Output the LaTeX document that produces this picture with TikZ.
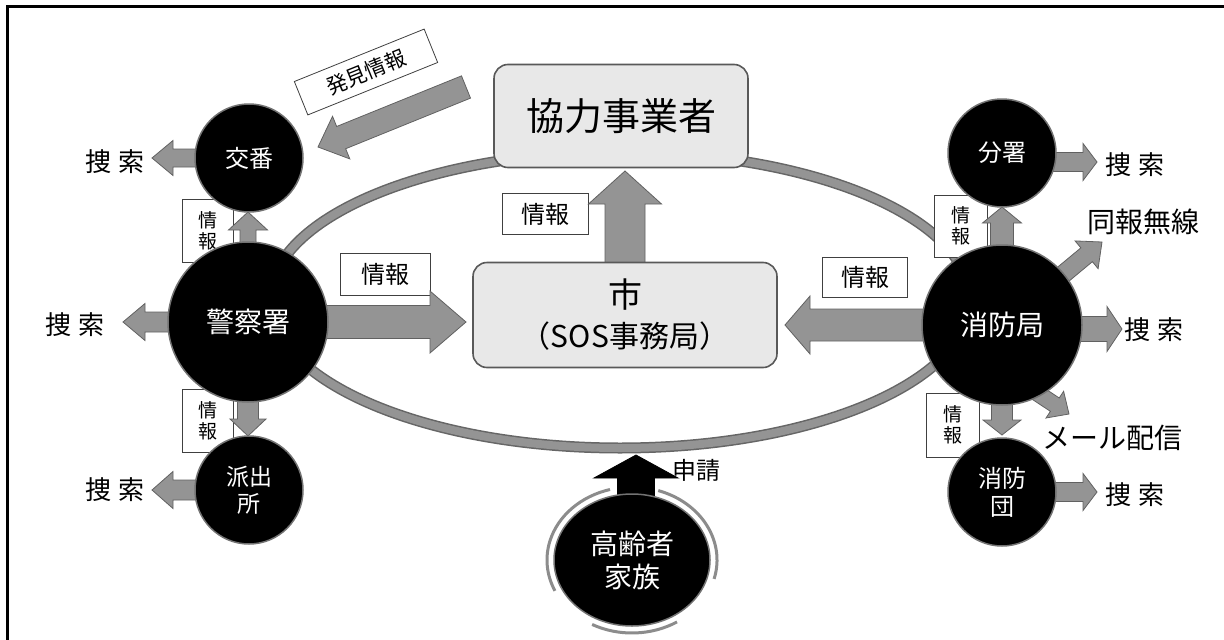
\documentclass[tikz,border=0pt]{standalone}
\usepackage{fontspec}
\setmainfont{Noto Sans CJK JP}
\usetikzlibrary{calc,backgrounds,shapes.geometric}
\newcommand{\jfs}[1]{\fontsize{#1}{#1}\selectfont}
% block arrow: [style]{tail}{tip}{half shaft}{half head}{head length}
\newcommand{\barrow}[6][]{%
  \coordinate (bhA) at ($(#3)!#6!(#2)$);
  \path[garrow,#1] ($(#2)!#4!90:(#3)$) -- ($(bhA)!#4!90:(#3)$) -- ($(bhA)!#5!90:(#3)$) -- (#3)
    -- ($(bhA)!#5!-90:(#3)$) -- ($(bhA)!#4!-90:(#3)$) -- ($(#2)!#4!-90:(#3)$) -- cycle;
}
\begin{document}
\begin{tikzpicture}[x=1pt,y=-1pt,
  dark/.style={circle, fill=black, draw=black!55, line width=1.5pt, text=white, inner sep=0pt, align=center},
  rbox/.style={rectangle, rounded corners=14pt, fill=black!9, draw=black!65, line width=1.6pt, align=center, inner sep=0pt},
  lbl/.style={rectangle, draw=black!75, fill=white, line width=0.8pt, inner sep=0pt, align=center},
  txt/.style={inner sep=0pt, align=center},
  garrow/.style={fill=black!42, draw=black!62, line width=0.8pt},
  karrow/.style={fill=black, draw=black},
  ring/.style={draw=black!45, line width=3pt}]
\useasboundingbox (0,0) rectangle (1224,640);
\begin{pgfonlayer}{background}
  \fill[white] (0,0) rectangle (1224,640);
\end{pgfonlayer}
% frame
\draw[line width=3pt] (7.5,640) -- (7.5,6.5) -- (1224,6.5);

% main nodes
\node[rbox, minimum width=254pt, minimum height=103pt, font=\jfs{38}] (kyo) at (621,116) {協力事業者};
\node[rbox, minimum width=304pt, minimum height=105pt, font=\fontsize{30}{40}\selectfont] (shi) at (625,315) {{\jfs{34}市}\\（SOS事務局）};

\node[dark, minimum size=108pt, font=\jfs{24}] (kouban) at (249,158) {交番};
\node[dark, minimum size=160pt, font=\jfs{28}] (keisatsu) at (248,322) {警察署};
\node[dark, minimum size=108pt, font=\fontsize{23}{27}\selectfont] (hashutsu) at (249,490) {派出\\所};
\node[dark, minimum size=108pt, font=\jfs{24}] (bunsho) at (1002,153) {分署};
\node[dark, minimum size=160pt, font=\jfs{28}] (shobo) at (1002,325) {消防局};
\node[dark, minimum size=108pt, font=\fontsize{24}{28}\selectfont] (shobodan) at (1002,492) {消防\\団};
\node[dark, ellipse, minimum width=156pt, minimum height=132pt, font=\fontsize{28}{33}\selectfont] (korei) at (632,560) {高齢者\\家族};

% ring around korei
\draw[ring] ($(korei.center)+(105:85pt and 73pt)$) arc[start angle=105, end angle=205, x radius=85pt, y radius=73pt];
\draw[ring] ($(korei.center)+(-15:85pt and 73pt)$) arc[start angle=-15, end angle=72, x radius=85pt, y radius=73pt];
\draw[ring] ($(korei.center)+(242:85pt and 73pt)$) arc[start angle=242, end angle=302, x radius=85pt, y radius=73pt];

% plain texts
\node[txt, font=\jfs{26}] (s1) at (115,162) {捜\hspace{8pt}索};
\node[txt, font=\jfs{26}] (s2) at (75,325) {捜\hspace{8pt}索};
\node[txt, font=\jfs{26}] (s3) at (115,490) {捜\hspace{8pt}索};
\node[txt, font=\jfs{26}] (s4) at (1135,165) {捜\hspace{8pt}索};
\node[txt, font=\jfs{26}] (s5) at (1154,330) {捜\hspace{8pt}索};
\node[txt, font=\jfs{26}] (s6) at (1135,495) {捜\hspace{8pt}索};
\node[txt, font=\jfs{28}] (douhou) at (1143,222) {同報無線};
\node[txt, font=\jfs{28}] (mail) at (1112,438) {メール配信};
\node[txt, font=\jfs{24}] (shinsei) at (696,470) {申請};

% connector end points
\coordinate (tKo) at (152,158);
\coordinate (tKs) at (123,322);
\coordinate (tHa) at (152,490);
\coordinate (tUp) at (248,212);
\coordinate (tDn) at (248,436);
\coordinate (tS1) at (466,322);
\coordinate (tS2) at (785,325);
\coordinate (tKy) at (625,171);
\coordinate (hk1) at (466,87);
\coordinate (hk2) at (318,147);
\coordinate (bsT) at ($(bunsho.center)+(0,9)$);
\coordinate (tBs) at (1097,162);
\coordinate (tFu) at (1002,207);
\coordinate (tDo) at (1102,242);
\coordinate (sbR) at ($(shobo.center)+(0,4)$);
\coordinate (tSr) at (1122,329);
\coordinate (sbD) at ($(shobo.center)+(23,60)$);
\coordinate (tMa) at (1069,414);
\coordinate (tDa) at (1002,435);
\coordinate (tSd) at (1097,492);
\coordinate (krT) at ($(korei.center)+(4,-20)$);
\coordinate (tKr) at (636,455);

\begin{pgfonlayer}{background}
  \draw[black!60, line width=11pt] (620,300) ellipse [x radius=350pt, y radius=148pt];
  \draw[black!42, line width=8pt] (620,300) ellipse [x radius=350pt, y radius=148pt];
  % label boxes
  \node[lbl, minimum width=90pt, minimum height=42pt, font=\jfs{24}] (j1) at (385,274) {情報};
  \node[lbl, minimum width=86pt, minimum height=41pt, font=\jfs{24}] (j2) at (545,214) {情報};
  \node[lbl, minimum width=85pt, minimum height=40pt, font=\jfs{24}] (j3) at (865,277) {情報};
  \node[lbl, minimum width=51pt, minimum height=63pt, font=\fontsize{19}{21}\selectfont] (jv1) at (208,231) {情\\報};
  \node[lbl, minimum width=51pt, minimum height=63pt, font=\fontsize{19}{21}\selectfont] (jv2) at (208,421) {情\\報};
  \node[lbl, minimum width=53pt, minimum height=62pt, font=\fontsize{19}{21}\selectfont] (jv3) at (961,226) {情\\報};
  \node[lbl, minimum width=53pt, minimum height=64pt, font=\fontsize{19}{21}\selectfont] (jv4) at (953,425) {情\\報};
  \node[lbl, rotate=22, minimum width=140pt, minimum height=36pt, font=\jfs{21}] (hakken) at (366,72) {発見情報};
  % arrows
  \barrow{kouban.center}{tKo}{9pt}{17.5pt}{21pt}
  \barrow{keisatsu.center}{tKs}{10pt}{18.5pt}{22pt}
  \barrow{hashutsu.center}{tHa}{10pt}{18.5pt}{21pt}
  \barrow{keisatsu.center}{tUp}{8pt}{19.5pt}{18pt}
  \barrow{keisatsu.center}{tDn}{10.5pt}{18pt}{17pt}
  \barrow{keisatsu.center}{tS1}{16.5pt}{31pt}{36pt}
  \barrow{shobo.center}{tS2}{16pt}{29pt}{25pt}
  \barrow{shi.center}{tKy}{20pt}{36.5pt}{33pt}
  \barrow{hk1}{hk2}{12pt}{23pt}{25pt}
  \barrow{bsT}{tBs}{9.5pt}{18.5pt}{14pt}
  \barrow{shobo.center}{tFu}{11.5pt}{19.5pt}{16pt}
  \barrow{shobo.center}{tDo}{9pt}{18pt}{20pt}
  \barrow{sbR}{tSr}{12.5pt}{22.5pt}{15pt}
  \barrow{sbD}{tMa}{8pt}{16pt}{17pt}
  \barrow{shobo.center}{tDa}{10.5pt}{19pt}{15pt}
  \barrow{shobodan.center}{tSd}{9.5pt}{18.5pt}{14pt}
  \barrow[karrow]{krT}{tKr}{18.5pt}{42pt}{23pt}
\end{pgfonlayer}
\end{tikzpicture}
\end{document}
